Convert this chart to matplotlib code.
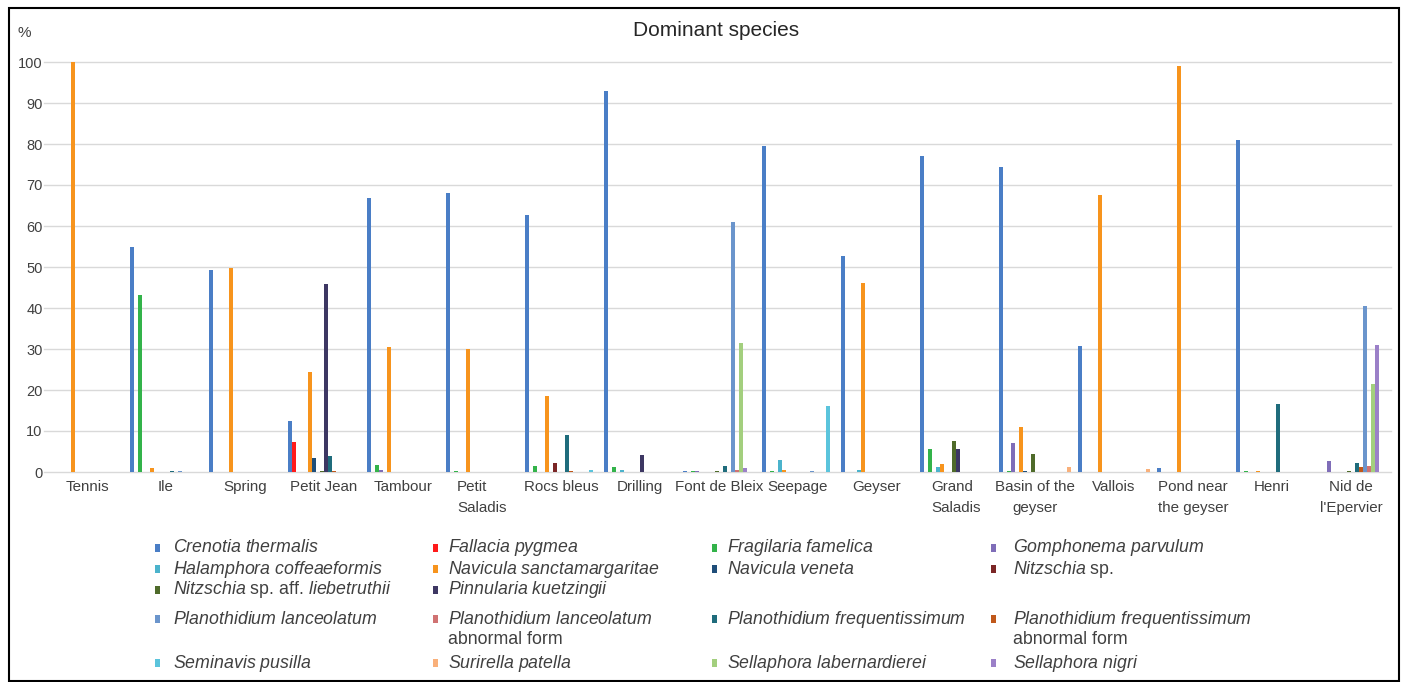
import matplotlib
matplotlib.use('Agg')
import matplotlib.pyplot as plt
from matplotlib.patches import Rectangle
import numpy as np

plt.rcParams['font.family'] = ['Liberation Sans', 'DejaVu Sans']
plt.rcParams['mathtext.fontset'] = 'custom'
plt.rcParams['mathtext.rm'] = 'Liberation Sans'
plt.rcParams['mathtext.it'] = 'Liberation Sans:italic'

sites = ['Tennis', 'Ile', 'Spring', 'Petit Jean', 'Tambour', 'Petit\nSaladis',
         'Rocs bleus', 'Drilling', 'Font de Bleix', 'Seepage', 'Geyser',
         'Grand\nSaladis', 'Basin of the\ngeyser', 'Vallois',
         'Pond near\nthe geyser', 'Henri', "Nid de\nl'Epervier"]

# relative abundance (%) per species, one value per site
crenotia = [0, 55.0, 49.3, 12.4, 66.8, 68.1, 62.7, 92.9, 0.2, 79.5, 52.7, 77.1, 74.5, 30.8, 0.9, 81.0, 0]
fallacia = [0, 0, 0, 7.3, 0, 0, 0, 0, 0, 0, 0, 0, 0, 0, 0, 0, 0]
fragilaria = [0, 43.1, 0, 0, 1.6, 0.3, 1.5, 1.2, 0.2, 0.2, 0, 5.5, 0.2, 0, 0, 0.2, 0]
gomphonema = [0, 0, 0, 0, 0.6, 0, 0, 0, 0.2, 0, 0, 0, 7.1, 0, 0, 0, 2.6]
halamphora = [0, 0, 0, 0, 0, 0, 0, 0.6, 0, 2.9, 0.6, 1.3, 0, 0, 0, 0, 0]
nav_sanct = [100, 0.9, 49.8, 24.4, 30.5, 30.0, 18.5, 0, 0, 0.5, 46.1, 1.9, 11.0, 67.6, 99.1, 0.2, 0]
nav_veneta = [0, 0, 0, 3.3, 0, 0, 0, 0, 0, 0, 0, 0, 0.3, 0, 0, 0, 0]
nitzschia_sp = [0, 0, 0, 0, 0, 0, 2.3, 0, 0, 0, 0, 0, 0, 0, 0, 0, 0]
nitzschia_aff = [0, 0, 0, 0.3, 0, 0, 0, 0, 0.3, 0, 0, 7.6, 4.5, 0, 0, 0, 0.3]
pinnularia = [0, 0, 0, 45.9, 0, 0, 0, 4.1, 0, 0, 0, 5.7, 0, 0, 0, 0, 0]
p_freq = [0, 0.3, 0, 4.0, 0, 0, 9.0, 0, 1.4, 0, 0, 0, 0, 0, 0, 16.6, 2.2]
p_freq_abn = [0, 0, 0, 0.3, 0, 0, 0.3, 0, 0, 0, 0, 0, 0, 0, 0, 0, 1.3]
p_lanc = [0, 0.3, 0, 0, 0, 0, 0, 0, 61.0, 0.2, 0, 0, 0, 0, 0, 0, 40.5]
p_lanc_abn = [0, 0, 0, 0, 0, 0, 0, 0, 0.5, 0, 0, 0, 0, 0, 0, 0, 1.4]
s_laber = [0, 0, 0, 0, 0, 0, 0, 0, 31.5, 0, 0, 0, 0, 0, 0, 0, 21.4]
s_nigri = [0, 0, 0, 0, 0, 0, 0, 0, 0.9, 0, 0, 0, 0, 0, 0, 0, 30.9]
seminavis = [0, 0, 0, 0, 0, 0, 0.6, 0, 0, 16.1, 0, 0, 0, 0, 0, 0, 0]
surirella = [0, 0, 0, 0, 0, 0, 0, 0, 0, 0, 0, 0, 1.3, 0.8, 0, 0, 0]

# bar order inside each site group
series = [crenotia, fallacia, fragilaria, gomphonema, halamphora, nav_sanct,
          nav_veneta, nitzschia_sp, nitzschia_aff, pinnularia, p_freq,
          p_freq_abn, p_lanc, p_lanc_abn, s_laber, s_nigri, seminavis, surirella]
labels = [r'$\mathit{Crenotia\ thermalis}$', r'$\mathit{Fallacia\ pygmea}$',
          r'$\mathit{Fragilaria\ famelica}$', r'$\mathit{Gomphonema\ parvulum}$',
          r'$\mathit{Halamphora\ coffeaeformis}$', r'$\mathit{Navicula\ sanctamargaritae}$',
          r'$\mathit{Navicula\ veneta}$', r'$\mathit{Nitzschia}$ sp.',
          r'$\mathit{Nitzschia}$ sp. aff. $\mathit{liebetruthii}$',
          r'$\mathit{Pinnularia\ kuetzingii}$', r'$\mathit{Planothidium\ frequentissimum}$',
          r'$\mathit{Planothidium\ frequentissimum}$', r'$\mathit{Planothidium\ lanceolatum}$',
          r'$\mathit{Planothidium\ lanceolatum}$', r'$\mathit{Sellaphora\ labernardierei}$',
          r'$\mathit{Sellaphora\ nigri}$', r'$\mathit{Seminavis\ pusilla}$',
          r'$\mathit{Surirella\ patella}$']
colors = ['#4A7EC6', '#FF1A1A', '#33B34A', '#7F6DB8', '#4BB3CC', '#F7941D',
          '#1F4E79', '#7B2626', '#4F6B2A', '#3D3763', '#1F6C7C', '#C0581B',
          '#6B95CC', '#D07272', '#A3CF7E', '#9B80C8', '#5BC4DC', '#F9B07A']

# legend grid: (series index, column, row); row 3 has two-line entries
legend_layout = [(0, 0, 0), (1, 1, 0), (2, 2, 0), (3, 3, 0),
                 (4, 0, 1), (5, 1, 1), (6, 2, 1), (7, 3, 1),
                 (8, 0, 2), (9, 1, 2),
                 (12, 0, 3), (13, 1, 3), (10, 2, 3), (11, 3, 3),
                 (16, 0, 4), (17, 1, 4), (14, 2, 4), (15, 3, 4)]
abnormal = [13, 11]

W, H = 1408, 682
fig = plt.figure(figsize=(W / 100, H / 100), dpi=100)


def fx(px):
    return px / W


def fy(py):
    return 1 - py / H


ax_left, ax_right, ax_top, ax_bot = 44, 1390.5, 62, 472
ax = fig.add_axes([fx(ax_left), fy(ax_bot), fx(ax_right) - fx(ax_left), fy(ax_top) - fy(ax_bot)])

slot = (ax_right - 47.5) / len(sites)
pitch = 4 / slot
n = len(series)
x = np.arange(len(sites))
for j, (vals, col) in enumerate(zip(series, colors)):
    ax.bar(x + (j - (n - 1) / 2) * pitch, vals, width=pitch * 0.8,
           color=col, linewidth=0, zorder=3)

ax.set_xlim(-0.5 - (47.5 - ax_left) / slot, len(sites) - 0.5)
ax.set_ylim(0, 100)
ax.set_yticks(range(0, 101, 10))
ax.set_xticks(x)
ax.set_xticklabels(sites, fontsize=10.9, linespacing=1.6)
for lab in ax.get_xticklabels():
    if 'Saladis' in lab.get_text():
        lab.set_multialignment('left')
for lab in ax.get_yticklabels():
    lab.set_fontsize(10.5)
ax.grid(axis='y', color='#D9D9D9', linewidth=1, zorder=0)
for s in ax.spines.values():
    s.set_visible(False)
ax.tick_params(axis='both', length=0, colors='#404040')
ax.tick_params(axis='x', pad=6)
ax.tick_params(axis='y', pad=1)
for gl in ax.get_ygridlines():
    gl.set_clip_on(False)

fig.text(fx(716), fy(31), 'Dominant species', ha='center', va='center',
         fontsize=15, color='#262626')
fig.text(fx(18), fy(33), '%', ha='left', va='center', fontsize=11, color='#404040')

# legend drawn by hand to follow the original grid
mark_x = [157, 435, 714, 993]
text_x = [173, 448, 727, 1013]
row_y = [548, 569, 590, 619, 663]
for idx, col, row in legend_layout:
    y = row_y[row]
    fig.add_artist(Rectangle((fx(mark_x[col] - 2.5), fy(y + 4)), 5 / W, 8 / H,
                             transform=fig.transFigure, color=colors[idx], linewidth=0))
    fig.text(fx(text_x[col]), fy(y), labels[idx], ha='left', va='center',
             fontsize=12.8, color='#404040')
    if idx in abnormal:
        fig.text(fx(text_x[col]), fy(y + 21), 'abnormal form', ha='left', va='center',
                 fontsize=12.8, color='#404040')

fig.add_artist(Rectangle((fx(9), fy(681)), fx(1399) - fx(9), fy(8) - fy(681),
                         transform=fig.transFigure, fill=False, edgecolor='black', linewidth=1.5))

fig.savefig('out.png', dpi=100)
